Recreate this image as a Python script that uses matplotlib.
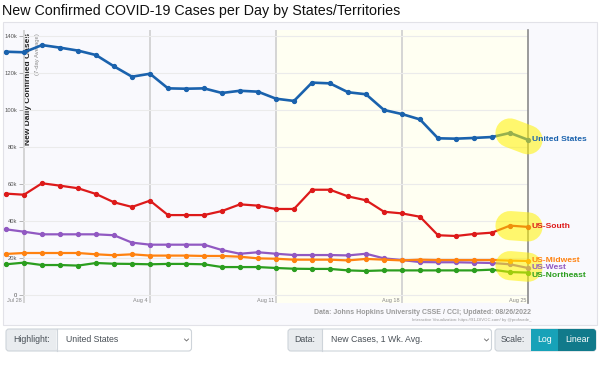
import matplotlib
matplotlib.use('Agg')
import matplotlib.pyplot as plt
from matplotlib.patches import Rectangle, FancyBboxPatch

plt.rcParams['font.family'] = ['Liberation Sans', 'DejaVu Sans']

# daily values (thousands), Jul 27 .. Aug 25
days = list(range(30))
week_ticks = [1, 8, 15, 22, 29]
week_labels = ['Jul 28', 'Aug 4', 'Aug 11', 'Aug 18', 'Aug 25']

us = [131.5, 131.2, 135.1, 133.7, 132.1, 129.7, 123.6, 118.0, 119.6, 111.7,
      111.5, 111.7, 109.2, 110.4, 109.9, 106.1, 104.9, 114.8, 114.4, 109.6,
      108.5, 100.0, 97.8, 94.9, 84.7, 84.5, 84.9, 85.4, 87.6, 83.9]
south = [54.8, 54.2, 60.4, 59.1, 57.7, 54.6, 50.1, 47.6, 51.0, 43.2,
         43.2, 43.2, 45.4, 49.0, 48.3, 46.5, 46.5, 56.9, 56.9, 53.3,
         51.2, 45.0, 44.1, 42.3, 32.3, 31.9, 33.0, 33.7, 37.5, 36.8]
west = [35.5, 34.2, 32.8, 32.8, 32.8, 32.8, 32.3, 28.3, 27.2, 27.2,
        27.2, 27.2, 24.3, 22.3, 23.1, 22.3, 21.6, 21.6, 21.6, 21.4,
        22.3, 19.8, 18.9, 17.8, 17.7, 17.7, 17.5, 17.3, 16.6, 14.6]
midwest = [22.2, 22.7, 22.7, 22.7, 22.7, 22.0, 21.5, 22.0, 21.3, 21.3,
           21.3, 21.1, 21.1, 20.7, 19.8, 19.6, 19.1, 19.1, 19.1, 18.7,
           19.5, 19.1, 18.7, 19.1, 18.9, 18.9, 18.9, 18.9, 18.6, 18.4]
northeast = [16.6, 17.5, 16.2, 16.2, 15.9, 17.3, 16.9, 16.8, 16.6, 16.8,
             16.8, 16.6, 15.1, 15.1, 15.1, 14.6, 14.2, 14.1, 14.1, 13.3,
             13.0, 13.3, 13.3, 13.3, 13.3, 13.3, 13.3, 13.7, 12.4, 12.1]

series = [
    ('United States', us, '#1a62ad', 1.9),
    ('US-South', south, '#dd1a1a', 1.6),
    ('US-West', west, '#9159c2', 1.6),
    ('US-Midwest', midwest, '#ff8210', 1.6),
    ('US-Northeast', northeast, '#2b9e1f', 1.6),
]

W, H = 600, 386
fig = plt.figure(figsize=(W / 100, H / 100), dpi=100)

# background layer in pixel coordinates (panel, title, controls)
bg = fig.add_axes([0, 0, 1, 1], zorder=0)
bg.set_xlim(0, W)
bg.set_ylim(H, 0)
bg.axis('off')

bg.add_patch(Rectangle((3, 22), 594, 303, facecolor='#f9f9fd', edgecolor='#e2e2e8', lw=0.8))
bg.text(2, 14.7, 'New Confirmed COVID-19 Cases per Day by States/Territories',
        fontsize=10.3, va='baseline', ha='left', color='#111111')

bg.text(29, 33, 'New Daily Confirmed Cases', rotation=90, ha='center', va='top',
        fontsize=6, fontweight='bold', color='#222222')
bg.text(37, 33, '(7-day Average)', rotation=90, ha='center', va='top',
        fontsize=4.2, color='#888888')

bg.text(531, 313, 'Data: Johns Hopkins University CSSE / CCI; Updated: 08/26/2022',
        ha='right', va='center', fontsize=5, color='#9a9a9a', fontweight='bold')
bg.text(531, 320.5, 'Interactive Visualization: https://91-DIVOC.com/ by @profwade_',
        ha='right', va='center', fontsize=3.1, color='#9a9a9a')


def control(x0, xl, x1, label, value):
    y0, y1 = 329, 351
    bg.add_patch(FancyBboxPatch((x0, y0), x1 - x0, y1 - y0, boxstyle='round,pad=0,rounding_size=3',
                                facecolor='#e9ecef', edgecolor='none'))
    bg.add_patch(FancyBboxPatch((xl, y0), x1 - xl, y1 - y0, boxstyle='round,pad=0,rounding_size=3',
                                facecolor='white', edgecolor='none'))
    bg.add_patch(Rectangle((xl, y0), 5, y1 - y0, facecolor='white', edgecolor='none'))
    bg.add_patch(FancyBboxPatch((x0, y0), x1 - x0, y1 - y0, boxstyle='round,pad=0,rounding_size=3',
                                facecolor='none', edgecolor='#ced4da', lw=0.8))
    bg.plot([xl, xl], [y0, y1], color='#ced4da', lw=0.8)
    bg.text((x0 + xl) / 2, 340, label, ha='center', va='center', fontsize=6.3, color='#495057')
    bg.text(xl + 9, 340, value, ha='left', va='center', fontsize=6.3, color='#495057')
    bg.plot([x1 - 7, x1 - 5, x1 - 3], [339, 341, 339], color='#666666', lw=0.6)


control(6, 56.5, 191.5, 'Highlight:', 'United States')
control(288, 322, 491.5, 'Data:', 'New Cases, 1 Wk. Avg.')

# scale buttons
bg.add_patch(FancyBboxPatch((495, 329), 101, 22, boxstyle='round,pad=0,rounding_size=3',
                            facecolor='#e9ecef', edgecolor='#ced4da', lw=0.8))
bg.add_patch(Rectangle((531, 329), 27, 22, facecolor='#17a2b8', edgecolor='none'))
bg.add_patch(FancyBboxPatch((558, 329), 38, 22, boxstyle='round,pad=0,rounding_size=3',
                            facecolor='#117a8b', edgecolor='none'))
bg.add_patch(Rectangle((558, 329), 5, 22, facecolor='#117a8b', edgecolor='none'))
bg.text(513, 340, 'Scale:', ha='center', va='center', fontsize=6.3, color='#495057')
bg.text(544.5, 340, 'Log', ha='center', va='center', fontsize=6.3, color='white')
bg.text(577, 340, 'Linear', ha='center', va='center', fontsize=6.3, color='white')

# main plot: 18 px per day (day 0 at x=6), 37 px per 20k (0 at y=295)
ax = fig.add_axes([23 / W, 1 - 303 / H, 505 / W, 273 / H], zorder=1)
ax.set_facecolor('none')
ax.set_xlim((23 - 6) / 18, 29)
ax.set_ylim(-(303 - 295) / 37 * 20, (295 - 30) / 37 * 20)

ax.axvspan(15, 29, color='#fffff2', zorder=0)

ax.set_yticks(range(0, 141, 20))
ax.set_yticklabels(['0'] + ['%dk' % v for v in range(20, 141, 20)])
ax.yaxis.grid(True, color='#ebebeb', lw=0.8)
ax.set_xticks(week_ticks[:-1])
ax.set_xticklabels([])
ax.xaxis.grid(True, color='#d2d2d2', lw=1.3)
ax.tick_params(axis='x', length=0)
ax.tick_params(axis='y', length=3, width=0.6, color='#aaaaaa', labelsize=4.2,
               labelcolor='#555555', pad=1)
for s in ['left', 'top', 'bottom']:
    ax.spines[s].set_visible(False)
ax.spines['right'].set_color('#8a8a8a')
ax.spines['right'].set_linewidth(1.2)

for d, lab in zip(week_ticks, week_labels):
    ax.text(d - 2 / 18, 0.008, lab, transform=ax.get_xaxis_transform(),
            ha='right', va='center', fontsize=4, color='#888888')

for name, vals, col, lw in series:
    ax.plot(days, vals, color=col, lw=lw, marker='o', ms=2.8, clip_on=False, zorder=3)

# end labels, nudged apart when too close
ends = sorted([(vals[-1], name, col) for name, vals, col, lw in series], reverse=True)
prev = None
for v, name, col in ends:
    if prev is not None and prev - v < 3.8:
        v = prev - 3.8
    prev = v
    ax.text(29 + 4 / 18, v, name, color=col, fontsize=6.1, fontweight='bold',
            ha='left', va='center', clip_on=False, zorder=5)

# yellow highlight blobs over the last segment
hl = dict(color='#fff200', alpha=0.55, lw=21, solid_capstyle='round', zorder=4, clip_on=False)
ax.plot(days[-2:], us[-2:], **hl)
ax.plot(days[-2:], south[-2:], **hl)
low_a = (midwest[-2] + west[-2] + northeast[-2]) / 3
low_b = (midwest[-1] + west[-1] + northeast[-1]) / 3
ax.plot(days[-2:], [low_a, low_b], **hl)

fig.savefig('out.png', dpi=100)
